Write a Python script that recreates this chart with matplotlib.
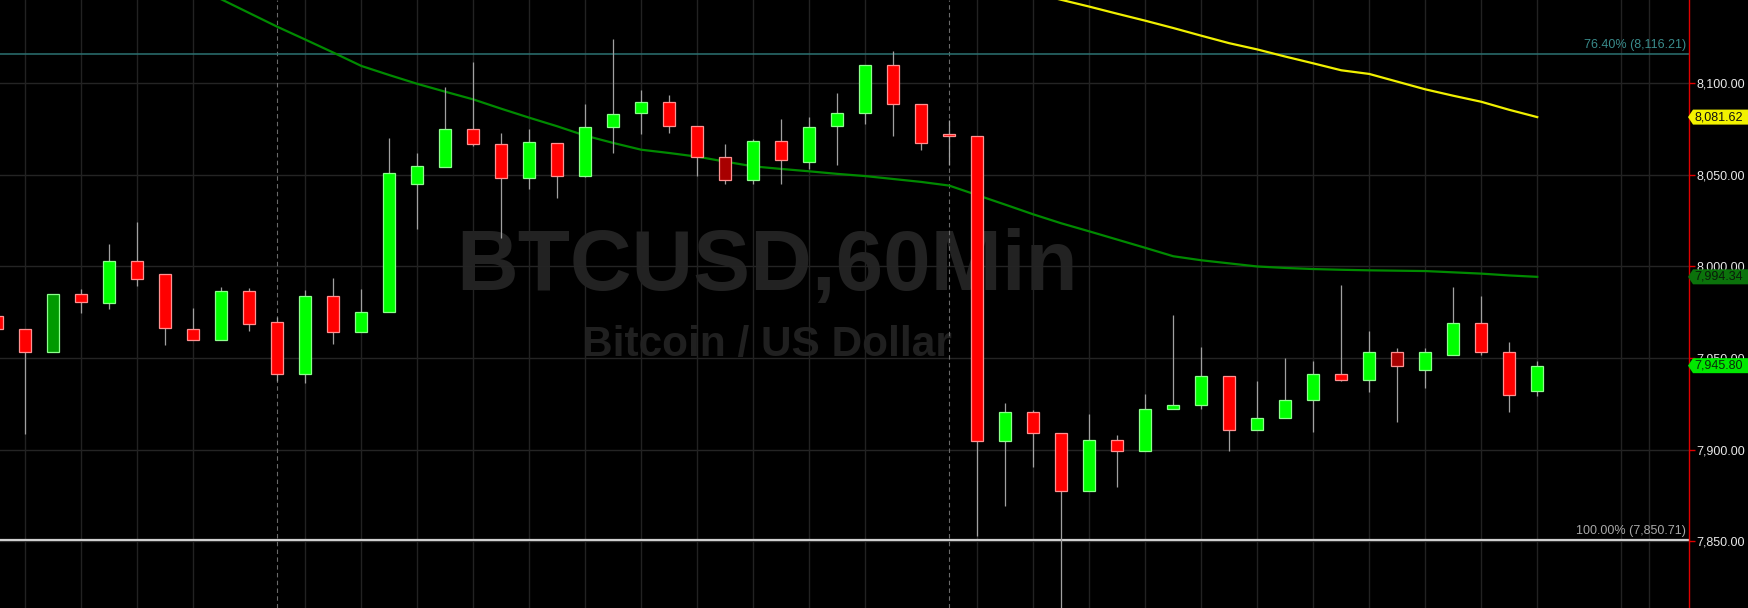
import numpy as np
import matplotlib
matplotlib.use("Agg")
import matplotlib.pyplot as plt
from matplotlib.patches import Polygon

# ---------------- data ----------------
opens = [7972.8, 7965.6, 7953.3, 7984.7, 7979.8, 8002.8, 7995.8, 7965.6, 7959.7, 7986.4,
         7969.4, 7941.4, 7983.7, 7964.3, 7975.4, 8044.8, 8054.6, 8074.9, 8066.9, 8048.2,
         8067.3, 8049.7, 8076.2, 8083.7, 8089.8, 8076.6, 8059.7, 8047.1, 8068.6, 8056.9,
         8076.6, 8083.7, 8110.2, 8088.7, 8072.4, 8071.1, 7904.9, 7920.6, 7909.1, 7877.3,
         7905.3, 7899.2, 7921.9, 7924.4, 7940.3, 7910.8, 7917.4, 7926.8, 7941.4, 7938.2,
         7953.5, 7943.5, 7951.8, 7969.0, 7953.5, 7932.1]
highs = [7972.8, 7965.6, 7984.7, 7987.7, 8012.3, 8024.2, 7995.8, 7977.3, 7988.9, 7988.1,
         7972.6, 7987.0, 7993.6, 7987.7, 8070.3, 8062.0, 8098.3, 8111.9, 8073.0, 8075.2,
         8067.3, 8089.0, 8124.4, 8096.6, 8093.8, 8076.6, 8067.1, 8069.9, 8080.7, 8081.7,
         8094.9, 8110.2, 8118.0, 8088.7, 8080.0, 8071.1, 7925.5, 7921.7, 7909.1, 7919.5,
         7908.1, 7930.4, 7973.5, 7955.8, 7940.3, 7937.2, 7949.9, 7948.6, 7989.8, 7964.5,
         7955.2, 7955.2, 7988.7, 7984.1, 7958.6, 7948.6]
lows = [7965.8, 7908.5, 7953.3, 7974.7, 7976.9, 7989.4, 7957.1, 7959.7, 7959.7, 7964.8,
        7937.2, 7936.3, 7957.7, 7964.3, 7975.4, 8020.6, 8054.6, 8065.8, 8015.3, 8042.5,
        8037.6, 8048.8, 8061.8, 8072.2, 8073.2, 8049.7, 8044.8, 8044.8, 8044.8, 8053.3,
        8055.2, 8077.7, 8071.5, 8063.9, 8055.6, 7852.9, 7869.4, 7890.4, 7805.0, 7877.3,
        7879.4, 7899.2, 7921.9, 7922.3, 7899.2, 7910.8, 7917.4, 7909.6, 7937.4, 7931.4,
        7915.1, 7933.5, 7951.8, 7951.8, 7920.4, 7929.3]
closes = [7965.8, 7953.3, 7984.7, 7980.5, 8002.8, 7993.4, 7966.2, 7959.7, 7986.4, 7968.4,
          7941.4, 7983.7, 7964.3, 7975.4, 8051.0, 8054.8, 8074.9, 8066.9, 8048.2, 8067.9,
          8049.7, 8076.2, 8083.2, 8090.0, 8076.6, 8059.7, 8047.1, 8068.6, 8058.2, 8076.2,
          8083.9, 8110.2, 8088.7, 8067.3, 8071.3, 7904.9, 7920.6, 7909.1, 7877.3, 7905.3,
          7899.2, 7921.9, 7924.4, 7940.3, 7910.8, 7917.4, 7926.8, 7941.4, 7938.2, 7953.5,
          7945.4, 7953.1, 7969.0, 7953.5, 7929.7, 7945.8]
dark_bars = [2, 26, 50]

nan = float("nan")
ma_green = [nan] * 7 + [
    8153.0, 8146.0, 8138.5, 8131.0, 8124.0, 8116.9, 8109.6, 8104.6, 8099.8, 8095.5,
    8091.3, 8086.2, 8081.3, 8076.6, 8071.5, 8067.5, 8063.8, 8062.0, 8060.0, 8057.3,
    8054.7, 8053.3, 8052.0, 8050.6, 8049.4, 8047.8, 8046.2, 8044.2, 8039.0, 8033.8,
    8028.5, 8023.6, 8019.2, 8014.7, 8010.2, 8005.6, 8003.4, 8001.7, 8000.0, 7999.2,
    7998.6, 7998.2, 7997.9, 7997.7, 7997.5, 7996.8, 7996.1, 7995.1, 7994.34]
ma_yellow = [nan] * 37 + [
    8149.5, 8145.7, 8142.0, 8138.1, 8134.3, 8130.3, 8126.1, 8122.0, 8118.6, 8114.7,
    8111.0, 8107.2, 8105.2, 8101.0, 8096.8, 8093.3, 8090.0, 8085.6, 8081.62]

y_ticks = [7850, 7900, 7950, 8000, 8050, 8100]
fib_levels = [8116.21, 7850.71]
fib_labels = ["76.40% (8,116.21)", "100.00% (7,850.71)"]
grid_idx = [1, 3, 5, 7, 11, 13, 15, 17, 19, 21, 23, 25, 27, 29, 31, 35, 37, 39, 41,
            43, 45, 47, 49, 51, 53, 55, 58, 59]
session_idx = [10, 34]
title = "BTCUSD,60Min"
subtitle = "Bitcoin / US Dollar"

# ---------------- figure ----------------
plt.rcParams["font.family"] = ["Liberation Sans", "DejaVu Sans"]
W, H = 1748, 608
AXW = 1689
fig = plt.figure(figsize=(W / 100, H / 100), dpi=100, facecolor="black")
ax = fig.add_axes([0, 0, AXW / W, 1])
ax.set_facecolor("black")

ax.set_xlim(0.1, 60.42)
ax.set_ylim(7813.4, 8145.6)

# watermark
ax.text(767 / AXW, 1 - 290 / H, title, transform=ax.transAxes, ha="center",
        va="baseline", fontsize=61.5, fontweight="bold", color="#222222", zorder=0.3)
ax.text(767 / AXW, 1 - 355.7 / H, subtitle, transform=ax.transAxes, ha="center",
        va="baseline", fontsize=30.5, fontweight="bold", color="#202020", zorder=0.3)

# grid
for v in y_ticks:
    ax.axhline(v, color="#242424", lw=1, zorder=0.6)
for i in grid_idx:
    ax.axvline(i, color="#222222", lw=1, zorder=0.6)
for i in session_idx:
    ax.axvline(i, color="#6a6a6a", lw=0.8, ls=(0, (4, 3)), zorder=0.6)

# fib lines
ax.axhline(fib_levels[0], color="#2c7272", lw=1.1, zorder=1)
ax.axhline(fib_levels[1], color="#cfcfcf", lw=1.6, zorder=1)
ax.text(1686 / AXW, fib_levels[0] + 1.7, fib_labels[0], transform=ax.get_yaxis_transform(),
        ha="right", va="bottom", fontsize=9, color="#3a8c8c", zorder=2)
ax.text(1686 / AXW, fib_levels[1] + 1.7, fib_labels[1], transform=ax.get_yaxis_transform(),
        ha="right", va="bottom", fontsize=9, color="#a8a8a8", zorder=2)

# moving averages
x = np.arange(len(opens))
ax.plot(np.arange(len(ma_green)), ma_green, color="#008a00", lw=1.6, zorder=2)
ax.plot(np.arange(len(ma_yellow)), ma_yellow, color="#f0f000", lw=1.6, zorder=2)

# candles
o = np.array(opens); c = np.array(closes); hi = np.array(highs); lo = np.array(lows)
ax.vlines(x, lo, hi, color="#a0a0a0", lw=0.9, zorder=3)
up = c >= o
face = []
edge = []
for i in range(len(o)):
    if up[i]:
        face.append("#009a00" if i in dark_bars else "#00ff00")
        edge.append("#8cff8c")
    else:
        face.append("#a80000" if i in dark_bars else "#ff0000")
        edge.append("#ff9090")
bottoms = np.minimum(o, c)
heights = np.maximum(np.abs(c - o), 0.6)
ax.bar(x, heights, bottom=bottoms, width=0.44, color=face, edgecolor=edge,
       linewidth=0.9, zorder=4)

# axis
for s in ["top", "left", "bottom"]:
    ax.spines[s].set_visible(False)
ax.spines["right"].set_color("#e00000")
ax.spines["right"].set_linewidth(1)
ax.xaxis.set_visible(False)
ax.yaxis.tick_right()
ax.set_yticks(y_ticks)
ax.set_yticklabels([f"{v:,.2f}" for v in y_ticks])
ax.tick_params(axis="y", direction="out", length=4, width=1, color="#e00000",
               pad=1.5, labelsize=9, labelcolor="#e8e8e8")

# price tags
trans = ax.get_yaxis_transform()
px = 1 / AXW
dy = 7.5 / 1.83


def tag(val, bg, fg, text):
    x0 = 1.0 - px
    x1 = x0 + 5 * px
    x2 = W / AXW
    poly = Polygon([(x0, val), (x1, val + dy), (x2, val + dy), (x2, val - dy),
                    (x1, val - dy)], closed=True, transform=trans, facecolor=bg,
                   edgecolor="none", clip_on=False, zorder=10)
    ax.add_patch(poly)
    ax.text(1694 / AXW, val, text, transform=trans, ha="left", va="center",
            fontsize=9, color=fg, zorder=11, clip_on=False)


tag(ma_yellow[-1], "#f2f200", "#111111", f"{ma_yellow[-1]:,.2f}")
tag(ma_green[-1], "#0b720b", "#0a1a0a", f"{ma_green[-1]:,.2f}")
tag(closes[-1], "#00e800", "#0a2a0a", f"{closes[-1]:,.2f}")

fig.savefig("out.png", dpi=100, facecolor="black")
